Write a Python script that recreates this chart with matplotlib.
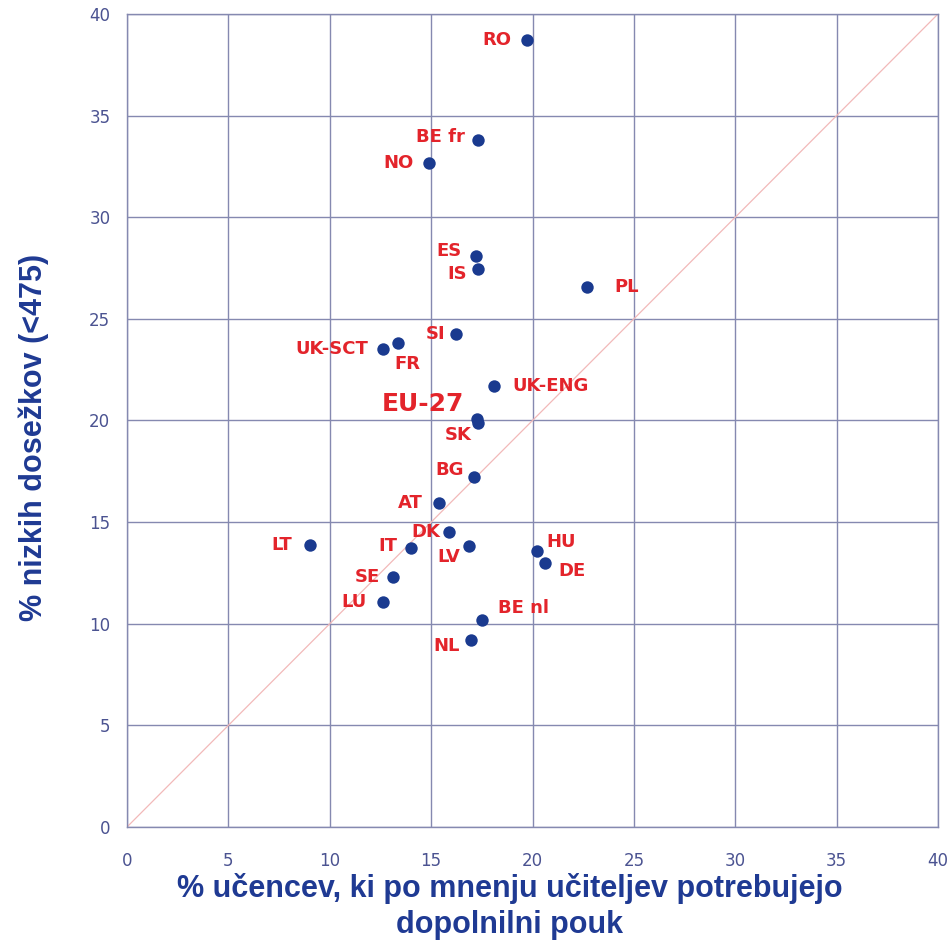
import matplotlib
matplotlib.use("Agg")
import matplotlib.pyplot as plt

# data
countries = ["RO", "BE fr", "NO", "ES", "IS", "PL", "SI", "FR", "UK-SCT", "UK-ENG",
             "EU-27", "SK", "BG", "AT", "DK", "LT", "IT", "LV", "HU", "DE",
             "SE", "LU", "BE nl", "NL"]
pct_support = [19.71, 17.30, 14.90, 17.20, 17.30, 22.70, 16.21, 13.38, 12.61, 18.10,
               17.28, 17.33, 17.10, 15.40, 15.90, 9.03, 14.01, 16.88, 20.21, 20.62,
               13.10, 12.61, 17.49, 16.97]
pct_low = [38.70, 33.79, 32.68, 28.10, 27.43, 26.55, 24.25, 23.82, 23.52, 21.72,
           20.06, 19.88, 17.22, 15.92, 14.52, 13.86, 13.75, 13.83, 13.57, 12.99,
           12.30, 11.06, 10.17, 9.22]

# label placement: (dx px, dy px, ha)
offsets = {
    "RO": (-15, 0, "right"), "BE fr": (-13, 3, "right"), "NO": (-15, 0, "right"),
    "ES": (-14, 5, "right"), "IS": (-11, -5, "right"), "PL": (27, 0, "left"),
    "SI": (-10, 0, "right"), "FR": (-4, -21, "left"), "UK-SCT": (-14, 0, "right"),
    "UK-ENG": (18, 0, "left"), "EU-27": (-13, 15, "right"), "SK": (-7, -12, "right"),
    "BG": (-10, 7, "right"), "AT": (-16, 0, "right"), "DK": (-9, 0, "right"),
    "LT": (-18, 0, "right"), "IT": (-14, 2, "right"), "LV": (-9, -11, "right"),
    "HU": (10, 9, "left"), "DE": (13, -8, "left"), "SE": (-13, 0, "right"),
    "LU": (-16, 0, "right"), "BE nl": (16, 12, "left"), "NL": (-11, -6, "right"),
}

ticks = [0, 5, 10, 15, 20, 25, 30, 35, 40]

grid_col = "#8589b0"
tick_col = "#4b5391"
label_col = "#1f3a93"
red = "#e3242b"
dot_col = "#1a3a8f"

fig = plt.figure(figsize=(9.52, 9.41), dpi=100)
ax = fig.add_axes([127 / 952, 1 - 827 / 941, 811 / 952, 813 / 941])

ax.plot([0, 40], [0, 40], color="#f2b9b9", lw=0.9, zorder=1)
ax.scatter(pct_support, pct_low, s=80, color=dot_col, zorder=3, linewidths=0)

for name, x, y in zip(countries, pct_support, pct_low):
    dx, dy, ha = offsets[name]
    big = name == "EU-27"
    ax.annotate(name, (x, y), xytext=(dx, dy), textcoords="offset pixels",
                ha=ha, va="center", color=red, fontweight="bold",
                fontsize=18 if big else 13, family="DejaVu Sans", zorder=4)

ax.set_xlim(0, 40)
ax.set_ylim(0, 40)
ax.set_xticks(ticks)
ax.set_yticks(ticks)
ax.grid(True, color=grid_col, lw=1.0)
ax.set_axisbelow(True)
for s in ax.spines.values():
    s.set_color(grid_col)
    s.set_linewidth(1.0)
ax.tick_params(length=0, colors=tick_col, labelsize=12)
ax.tick_params(axis="x", pad=18)
ax.tick_params(axis="y", pad=12)

ax.set_xlabel("% učencev, ki po mnenju učiteljev potrebujejo\ndopolnilni pouk",
              fontsize=22, fontweight="bold", color=label_col,
              family="Liberation Sans", linespacing=1.3)
ax.xaxis.set_label_coords(0.472, -0.056)
ax.set_ylabel("% nizkih dosežkov (<475)", fontsize=22, fontweight="bold",
              color=label_col, family="Liberation Sans")
ax.yaxis.set_label_coords(-0.096, 0.479)

fig.savefig("out.png", dpi=100)
